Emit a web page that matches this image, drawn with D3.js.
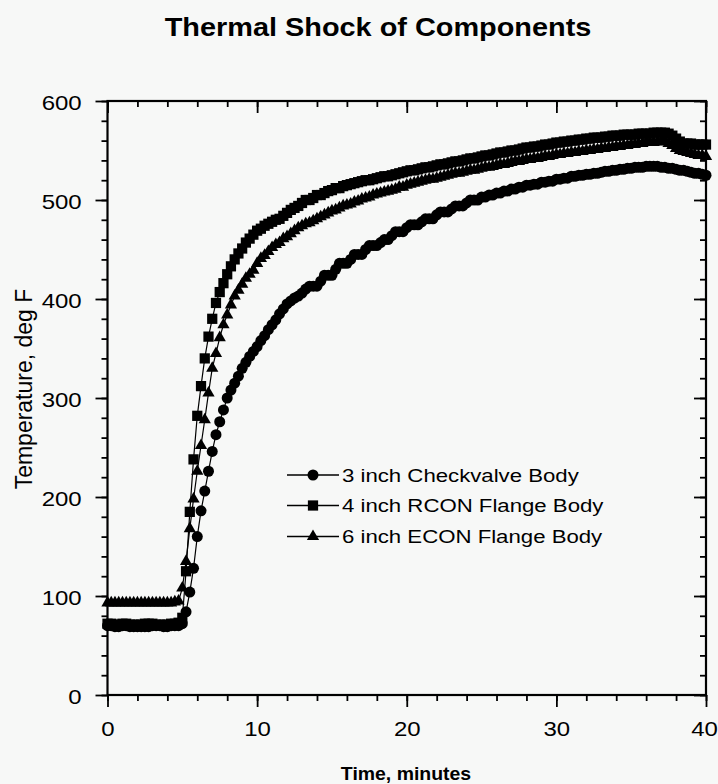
<!DOCTYPE html>
<html>
<head>
<meta charset="utf-8">
<script src="https://cdn.jsdelivr.net/npm/d3@7"></script>
<style>
  body { margin: 0; background: #f7f8f7; }
  svg { display: block; font-family: "Liberation Sans", Arial, Helvetica, sans-serif; }
</style>
</head>
<body>
<svg id="chart" width="718" height="784"></svg>
<script>
// readings every 15 s (0.25 min), 0..40 min
const sampleMinutes = 0.25;

const checkvalve = [
  70, 70, 69, 69, 70, 70, 69, 69,
  69, 69, 69, 69, 70, 70, 70, 69,
  69, 70, 70, 70, 72, 84, 104, 128,
  160, 186, 206, 226, 246, 263, 276, 288,
  300, 308, 315, 322, 330, 336, 342, 347,
  352, 358, 363, 369, 374, 379, 385, 390,
  395, 398, 401, 403, 406, 410, 413, 413,
  413, 418, 424, 424, 424, 430, 436, 436,
  436, 440, 445, 445, 445, 450, 454, 454,
  454, 457, 460, 460, 464, 468, 468, 468,
  472, 475, 475, 475, 478, 481, 481, 481,
  485, 488, 488, 488, 491, 494, 494, 494,
  497, 500, 500, 500, 503, 503, 505, 505,
  507, 507, 509, 509, 511, 511, 513, 513,
  515, 515, 516, 516, 518, 518, 519, 519,
  521, 521, 522, 522, 524, 524, 525, 525,
  526, 526, 527, 527, 528, 529, 529, 530,
  530, 531, 531, 532, 532, 533, 533, 533,
  534, 534, 534, 534, 533, 533, 532, 532,
  531, 530, 530, 529, 528, 527, 527, 526,
  525
];

const rconFlange = [
  72, 72, 71, 71, 72, 72, 71, 71,
  71, 71, 72, 72, 72, 71, 71, 71,
  71, 72, 72, 73, 78, 125, 185, 238,
  282, 312, 340, 362, 380, 396, 407, 416,
  425, 433, 440, 446, 451, 457, 461, 465,
  469, 471, 474, 476, 478, 480, 481, 484,
  487, 490, 492, 494, 497, 500, 500, 502,
  505, 505, 507, 509, 510, 512, 512, 514,
  515, 516, 517, 518, 519, 520, 520, 521,
  522, 523, 524, 524, 525, 526, 527, 528,
  529, 530, 530, 531, 532, 533, 533, 534,
  535, 536, 536, 537, 538, 539, 539, 540,
  541, 542, 542, 543, 544, 545, 545, 546,
  547, 548, 548, 549, 550, 550, 551, 552,
  553, 553, 554, 554, 555, 556, 556, 557,
  558, 558, 559, 559, 560, 560, 561, 561,
  562, 562, 563, 563, 563, 564, 564, 565,
  565, 565, 566, 566, 566, 566, 567, 567,
  567, 567, 568, 568, 568, 568, 567, 565,
  562, 559, 557, 557, 557, 556, 556, 556,
  556
];

const econFlange = [
  93, 93, 93, 93, 93, 93, 93, 93,
  93, 93, 93, 93, 93, 93, 93, 93,
  93, 93, 94, 95, 108, 135, 168, 198,
  226, 252, 278, 305, 330, 345, 361, 374,
  384, 394, 403, 409, 415, 421, 425, 429,
  436, 441, 444, 448, 452, 455, 457, 461,
  463, 466, 469, 472, 474, 476, 477, 479,
  481, 483, 485, 487, 489, 490, 492, 494,
  495, 496, 498, 499, 501, 502, 503, 505,
  506, 507, 508, 509, 510, 511, 513, 513,
  515, 516, 517, 518, 519, 520, 521, 521,
  522, 523, 524, 525, 526, 527, 527, 528,
  529, 530, 530, 531, 532, 533, 533, 534,
  535, 536, 536, 537, 538, 539, 539, 540,
  541, 541, 542, 542, 543, 544, 544, 545,
  546, 546, 547, 547, 548, 548, 549, 549,
  550, 550, 551, 551, 552, 552, 553, 553,
  554, 554, 555, 555, 556, 556, 557, 557,
  558, 558, 558, 559, 559, 559, 557, 555,
  552, 550, 549, 548, 547, 546, 545, 545,
  544
];

const seriesNames = ['3 inch Checkvalve Body', '4 inch RCON Flange Body', '6 inch ECON Flange Body'];
const xMajor = [0, 10, 20, 30, 40];
const xMinor = d3.range(0, 41, 2);
const yMajor = [0, 100, 200, 300, 400, 500, 600];
const yMinor = d3.range(0, 601, 20);

const svg = d3.select('#chart');

const x = d3.scaleLinear().domain([0, 40]).range([107.5, 706]);
const y = d3.scaleLinear().domain([0, 600]).range([695, 101]);

// axes: left/bottom ticks point out, top/right ticks point in
const axes = [
  { axis: d3.axisBottom(x).tickValues(xMinor).tickSize(6).tickFormat(''), at: `translate(0,${y(0)})` },
  { axis: d3.axisBottom(x).tickValues(xMajor).tickSize(12), at: `translate(0,${y(0)})`, cls: 'x-labels' },
  { axis: d3.axisTop(x).tickValues(xMinor).tickSize(-6).tickFormat(''), at: `translate(0,${y(600)})` },
  { axis: d3.axisTop(x).tickValues(xMajor).tickSize(-12).tickFormat(''), at: `translate(0,${y(600)})` },
  { axis: d3.axisLeft(y).tickValues(yMinor).tickSize(6).tickFormat(''), at: `translate(${x(0)},0)` },
  { axis: d3.axisLeft(y).tickValues(yMajor).tickSize(12), at: `translate(${x(0)},0)`, cls: 'y-labels' },
  { axis: d3.axisRight(y).tickValues(yMinor).tickSize(-6).tickFormat(''), at: `translate(${x(40)},0)` },
  { axis: d3.axisRight(y).tickValues(yMajor).tickSize(-12).tickFormat(''), at: `translate(${x(40)},0)` },
];

axes.forEach((a) => {
  const g = svg.append('g')
    .attr('class', a.cls || null)
    .attr('transform', a.at)
    .call(a.axis)
    .attr('font-size', null)
    .attr('font-family', null);
  g.select('.domain').remove();
  g.selectAll('.tick line').attr('stroke', '#000').attr('stroke-width', 1.8);
});

svg.select('.x-labels').selectAll('text')
  .attr('x', (d) => (d === 40 ? -1.6 : 0)) // keep "40" inside the page
  .attr('y', 41)
  .attr('dy', 0)
  .attr('fill', '#000')
  .attr('transform', 'scale(1.2,1)')
  .style('font-size', '20px');

svg.select('.y-labels').selectAll('text')
  .attr('x', -21.5)
  .attr('dy', '0.42em')
  .attr('fill', '#000')
  .attr('transform', 'scale(1.2,1)')
  .style('font-size', '20px');

// frame
svg.append('rect')
  .attr('x', x(0))
  .attr('y', y(600))
  .attr('width', x(40) - x(0))
  .attr('height', y(0) - y(600))
  .attr('fill', 'none')
  .attr('stroke', '#000')
  .attr('stroke-width', 2.2);

// series
const symbols = [
  d3.symbol(d3.symbolCircle, 95),
  d3.symbol(d3.symbolSquare, 105),
  d3.symbol(d3.symbolTriangle, 65),
];
const seriesValues = [checkvalve, rconFlange, econFlange];

const line = d3.line()
  .x((d, i) => x(i * sampleMinutes))
  .y((d) => y(d));

seriesValues.forEach((values, k) => {
  svg.append('path')
    .attr('d', line(values))
    .attr('fill', 'none')
    .attr('stroke', '#000')
    .attr('stroke-width', 1.2);

  svg.append('g')
    .selectAll('path')
    .data(values)
    .join('path')
    .attr('transform', (d, i) => `translate(${x(i * sampleMinutes)},${y(d)})`)
    .attr('d', symbols[k]())
    .attr('fill', '#000');
});

// legend
const legendRows = [475, 505.5, 536.5];
const legend = svg.append('g');
seriesNames.forEach((name, k) => {
  const row = legend.append('g').attr('transform', `translate(0,${legendRows[k]})`);
  row.append('line')
    .attr('x1', 287).attr('x2', 339)
    .attr('stroke', '#000').attr('stroke-width', 1.6);
  row.append('path')
    .attr('transform', 'translate(313,0)')
    .attr('d', symbols[k]())
    .attr('fill', '#000');
  row.append('text')
    .attr('transform', 'translate(342,0) scale(1.2,1)')
    .attr('dy', '0.36em')
    .style('font-size', '18.5px')
    .text(name);
});

// titles
svg.append('text')
  .attr('transform', 'translate(378,36) scale(1.155,1)')
  .attr('text-anchor', 'middle')
  .style('font-size', '25px')
  .style('font-weight', 'bold')
  .text('Thermal Shock of Components');

svg.append('text')
  .attr('transform', 'translate(406,780) scale(1.08,1)')
  .attr('text-anchor', 'middle')
  .style('font-size', '18px')
  .style('font-weight', 'bold')
  .text('Time, minutes');

svg.append('text')
  .attr('transform', 'translate(32,389) rotate(-90)')
  .attr('text-anchor', 'middle')
  .style('font-size', '23px')
  .text('Temperature, deg F');
</script>
</body>
</html>
